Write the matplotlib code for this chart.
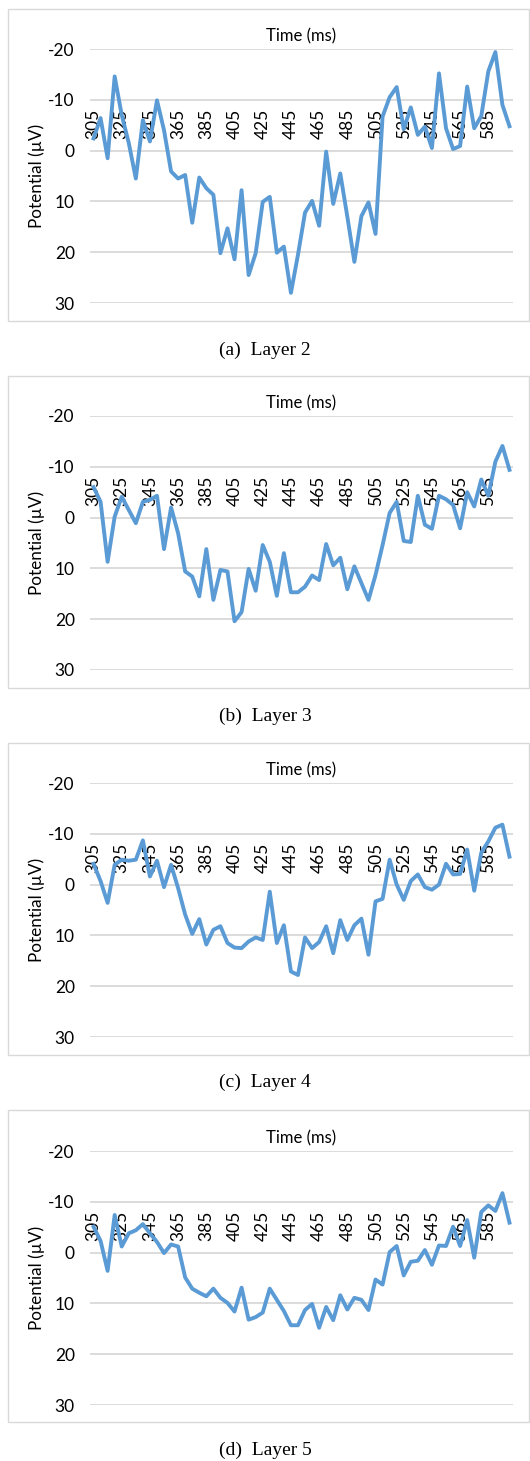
import matplotlib
matplotlib.use("Agg")
import matplotlib.pyplot as plt
from matplotlib.patches import Rectangle

# ---- data ----
times = list(range(305, 601, 5))          # 60 categories, ms
tick_labels = [str(t) for t in range(305, 586, 20)]

layer2 = [-2.4, -6.4, 1.5, -14.6, -7.0, -1.5, 5.5, -6.0, -1.8, -9.9,
          -4.0, 4.1, 5.5, 4.8, 14.2, 5.3, 7.4, 8.7, 20.2, 15.3,
          21.4, 7.8, 24.5, 20.2, 10.1, 9.1, 20.1, 18.9, 28.0, 20.5,
          12.2, 9.9, 14.8, 0.2, 10.5, 4.5, 13.0, 21.9, 12.9, 10.2,
          16.4, -6.7, -10.5, -12.5, -4.2, -8.5, -3.1, -4.7, -0.5, -15.2,
          -4.4, -0.3, -0.9, -12.6, -4.4, -6.8, -15.6, -19.4, -9.0, -4.8]

layer3 = [-6.0, -3.1, 8.7, -0.2, -4.1, -1.5, 1.1, -3.1, -3.5, -4.3,
          6.2, -2.0, 3.1, 10.6, 11.6, 15.5, 6.2, 16.2, 10.3, 10.6,
          20.4, 18.6, 10.1, 14.4, 5.4, 8.7, 15.4, 7.0, 14.7, 14.7,
          13.6, 11.4, 12.3, 5.2, 9.4, 7.9, 14.1, 9.6, 12.9, 16.2,
          11.3, 5.4, -0.9, -3.1, 4.6, 4.8, -4.3, 1.4, 2.2, -4.3,
          -3.6, -2.5, 2.1, -5.0, -2.2, -7.5, -4.3, -11.0, -14.1, -9.4]

layer4 = [-4.1, -0.7, 3.6, -3.9, -4.9, -4.7, -4.9, -8.7, -1.6, -4.7,
          0.5, -3.9, 0.7, 5.9, 9.7, 6.8, 11.8, 8.9, 8.2, 11.5,
          12.4, 12.5, 11.2, 10.4, 10.9, 1.4, 11.5, 8.0, 17.1, 17.8,
          10.4, 12.5, 11.3, 8.2, 13.5, 7.0, 10.9, 8.0, 6.7, 13.8,
          3.3, 2.8, -4.9, 0.0, 3.0, -0.7, -2.0, 0.5, 1.0, 0.0,
          -4.1, -2.0, -2.1, -6.9, 1.2, -6.3, -8.5, -11.2, -11.8, -5.5]

layer5 = [-5.1, -2.3, 3.6, -7.4, -1.2, -3.8, -4.4, -5.6, -3.8, -2.1,
          0.1, -1.6, -1.2, 4.9, 7.1, 7.9, 8.6, 7.1, 8.9, 9.9,
          11.6, 6.9, 13.2, 12.7, 11.8, 7.1, 9.3, 11.5, 14.3, 14.3,
          11.3, 10.1, 14.8, 10.7, 13.3, 8.4, 11.2, 8.9, 9.3, 11.3,
          5.3, 6.3, -0.1, -1.3, 4.5, 1.8, 1.6, -0.5, 2.4, -1.4,
          -1.3, -5.1, -1.3, -6.4, 1.0, -8.0, -9.3, -8.2, -11.7, -5.9]

series = [layer2, layer3, layer4, layer5]
captions = ["(a)  Layer 2", "(b)  Layer 3", "(c)  Layer 4", "(d)  Layer 5"]
y_ticks = [-20, -10, 0, 10, 20, 30]

# ---- layout (pixels) ----
W, H = 530, 1461
fig = plt.figure(figsize=(W / 100, H / 100), dpi=100)
fig.patch.set_facecolor("white")

plot_tops = [49, 416, 783, 1151]
plot_h = 254
box_tops = [9, 376, 743, 1110]
box_h = 312
cap_y = [350, 716, 1082, 1450]
px0, px1 = 90, 513

LINE = "#5B9BD5"
GRID = "#D9D9D9"
TXT = "#000000"
sans = ["Lato", "DejaVu Sans"]

for k in range(4):
    # outer chart border
    fig.patches.append(Rectangle((8 / W, 1 - (box_tops[k] + box_h) / H),
                                 (529 - 8) / W, box_h / H,
                                 transform=fig.transFigure, fill=False,
                                 edgecolor=GRID, linewidth=1.0))
    ax = fig.add_axes([px0 / W, 1 - (plot_tops[k] + plot_h) / H,
                       (px1 - px0) / W, plot_h / H])
    x = list(range(len(times)))
    ax.plot(x, series[k], color=LINE, linewidth=2.8, solid_joinstyle="round",
            zorder=3)
    ax.set_xlim(-0.5, len(times) - 0.5)
    ax.set_ylim(30, -20)
    ax.set_yticks(y_ticks)
    ax.set_yticklabels([str(v) for v in y_ticks], fontfamily=sans, fontsize=12.5,
                       color=TXT)
    ax.tick_params(axis="y", length=0, pad=11)
    ax.grid(axis="y", color=GRID, linewidth=1.3, zorder=0)
    ax.set_axisbelow(True)
    for s in ax.spines.values():
        s.set_visible(False)
    # category axis crossing at 0, labels above the zero line
    ax.xaxis.set_ticks_position("top")
    ax.spines["top"].set_position(("data", 0))
    ax.set_xticks(list(range(0, len(times), 4))[:len(tick_labels)])
    ax.set_xticklabels(tick_labels, rotation=90, fontfamily=sans, fontsize=12.5,
                       color=TXT)
    ax.tick_params(axis="x", length=0, pad=8)
    ax.text(0.5, 1 + 13 / plot_h, "Time (ms)", transform=ax.transAxes,
            ha="center", va="center", fontfamily=sans, fontsize=12, color=TXT)
    ax.text(-53 / (px1 - px0), 0.5, "Potential (µV)", transform=ax.transAxes,
            rotation=90, ha="center", va="center", fontfamily=sans,
            fontsize=12.3, color=TXT)
    fig.text(265 / W, 1 - cap_y[k] / H, captions[k], ha="center", va="center",
             fontfamily=["Liberation Serif", "DejaVu Serif"], fontsize=14,
             color=TXT)

fig.savefig("out.png", dpi=100, facecolor="white")
